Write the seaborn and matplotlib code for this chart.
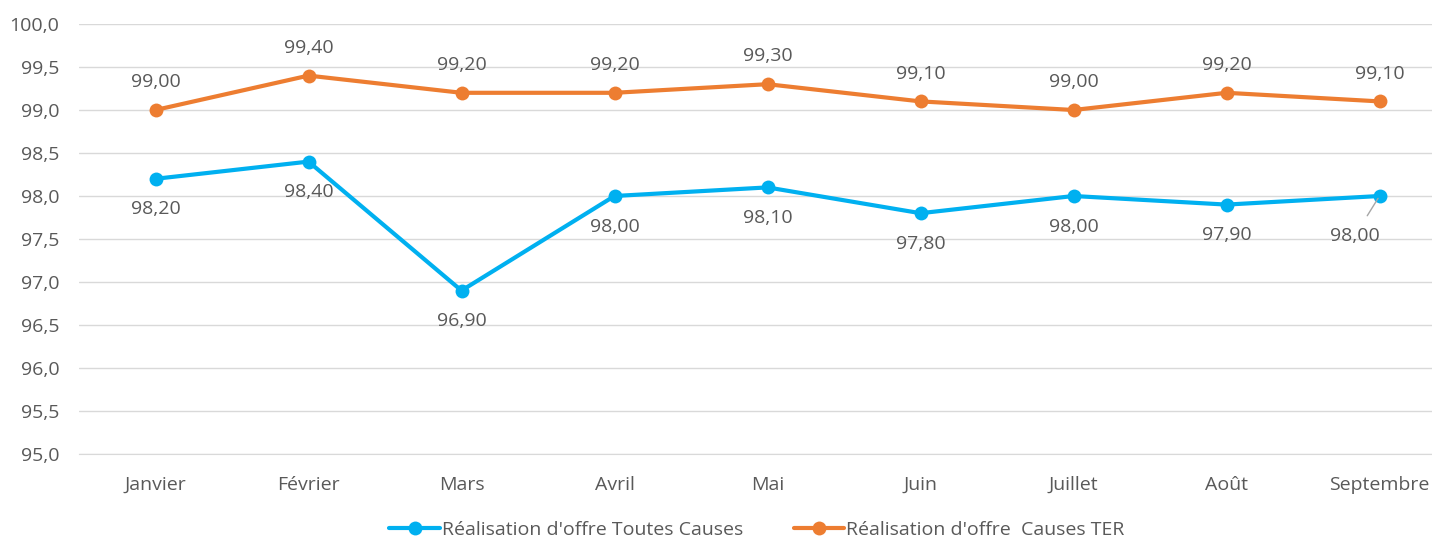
import numpy as np
import pandas as pd
import matplotlib
matplotlib.use("Agg")
import matplotlib.pyplot as plt
import seaborn as sns

# données du graphique
mois = ["Janvier", "Février", "Mars", "Avril", "Mai", "Juin", "Juillet", "Août", "Septembre"]
toutes_causes = [98.2, 98.4, 96.9, 98.0, 98.1, 97.8, 98.0, 97.9, 98.0]
causes_ter = [99.0, 99.4, 99.2, 99.2, 99.3, 99.1, 99.0, 99.2, 99.1]
serie1 = "Réalisation d'offre Toutes Causes"
serie2 = "Réalisation d'offre  Causes TER"

bleu = "#00B0F0"
orange = "#ED7D31"
gris = "#595959"
fs = 14

sns.set_style("white")
plt.rcParams['font.family'] = ['Open Sans', 'DejaVu Sans']

df = pd.DataFrame({"mois": mois * 2,
                   "valeur": toutes_causes + causes_ter,
                   "serie": [serie1] * len(mois) + [serie2] * len(mois)})
df["x"] = list(range(len(mois))) * 2

fig = plt.figure(figsize=(14.32, 5.42), dpi=100)
ax = fig.add_axes([79 / 1432, 1 - 454 / 542, 1377 / 1432, 430 / 542])

sns.lineplot(data=df, x="x", y="valeur", hue="serie", palette=[bleu, orange],
             marker="o", markersize=10, markeredgewidth=0, linewidth=3,
             ax=ax, legend=False)

# étiquettes de données
for i, v in enumerate(causes_ter):
    ax.annotate(f"{v:.2f}".replace(".", ","), (i, v), xytext=(0, 20),
                textcoords="offset points", ha="center", va="center",
                fontsize=fs, color=gris)
for i, v in enumerate(toutes_causes):
    if i == len(mois) - 1:
        ax.annotate(f"{v:.2f}".replace(".", ","), (i, v), xytext=(-18, -29),
                    textcoords="offset points", ha="center", va="center",
                    fontsize=fs, color=gris,
                    arrowprops=dict(arrowstyle="-", color="#A6A6A6", lw=1,
                                    shrinkA=7, shrinkB=2))
    else:
        ax.annotate(f"{v:.2f}".replace(".", ","), (i, v), xytext=(0, -22),
                    textcoords="offset points", ha="center", va="center",
                    fontsize=fs, color=gris)

ax.set_xlim(-0.5, len(mois) - 0.5)
ax.set_ylim(95, 100)
ax.set_yticks(np.arange(95, 100.01, 0.5))
ax.set_yticklabels([f"{t:.1f}".replace(".", ",") for t in np.arange(95, 100.01, 0.5)])
ax.set_xticks(range(len(mois)))
ax.set_xticklabels(mois)
ax.tick_params(axis="both", length=0, labelsize=fs, labelcolor=gris)
ax.tick_params(axis="x", pad=16)
ax.tick_params(axis="y", pad=14)
ax.yaxis.grid(True, color="#D9D9D9", linewidth=1)
ax.set_axisbelow(True)
ax.set_xlabel("")
ax.set_ylabel("")
for s in ax.spines.values():
    s.set_visible(False)
ax.spines["bottom"].set_visible(True)
ax.spines["bottom"].set_color("#D9D9D9")

# légende
h1 = plt.Line2D([], [], color=bleu, lw=3, marker="o", markersize=10, markeredgewidth=0)
h2 = plt.Line2D([], [], color=orange, lw=3, marker="o", markersize=10, markeredgewidth=0)
fig.legend([h1, h2], [serie1, serie2], loc="center", bbox_to_anchor=(757 / 1432, 1 - 530 / 542),
           ncol=2, frameon=False, fontsize=fs, labelcolor=gris, handlelength=2.6,
           handletextpad=0.1, columnspacing=2.6)

fig.savefig("out.png", dpi=100)
